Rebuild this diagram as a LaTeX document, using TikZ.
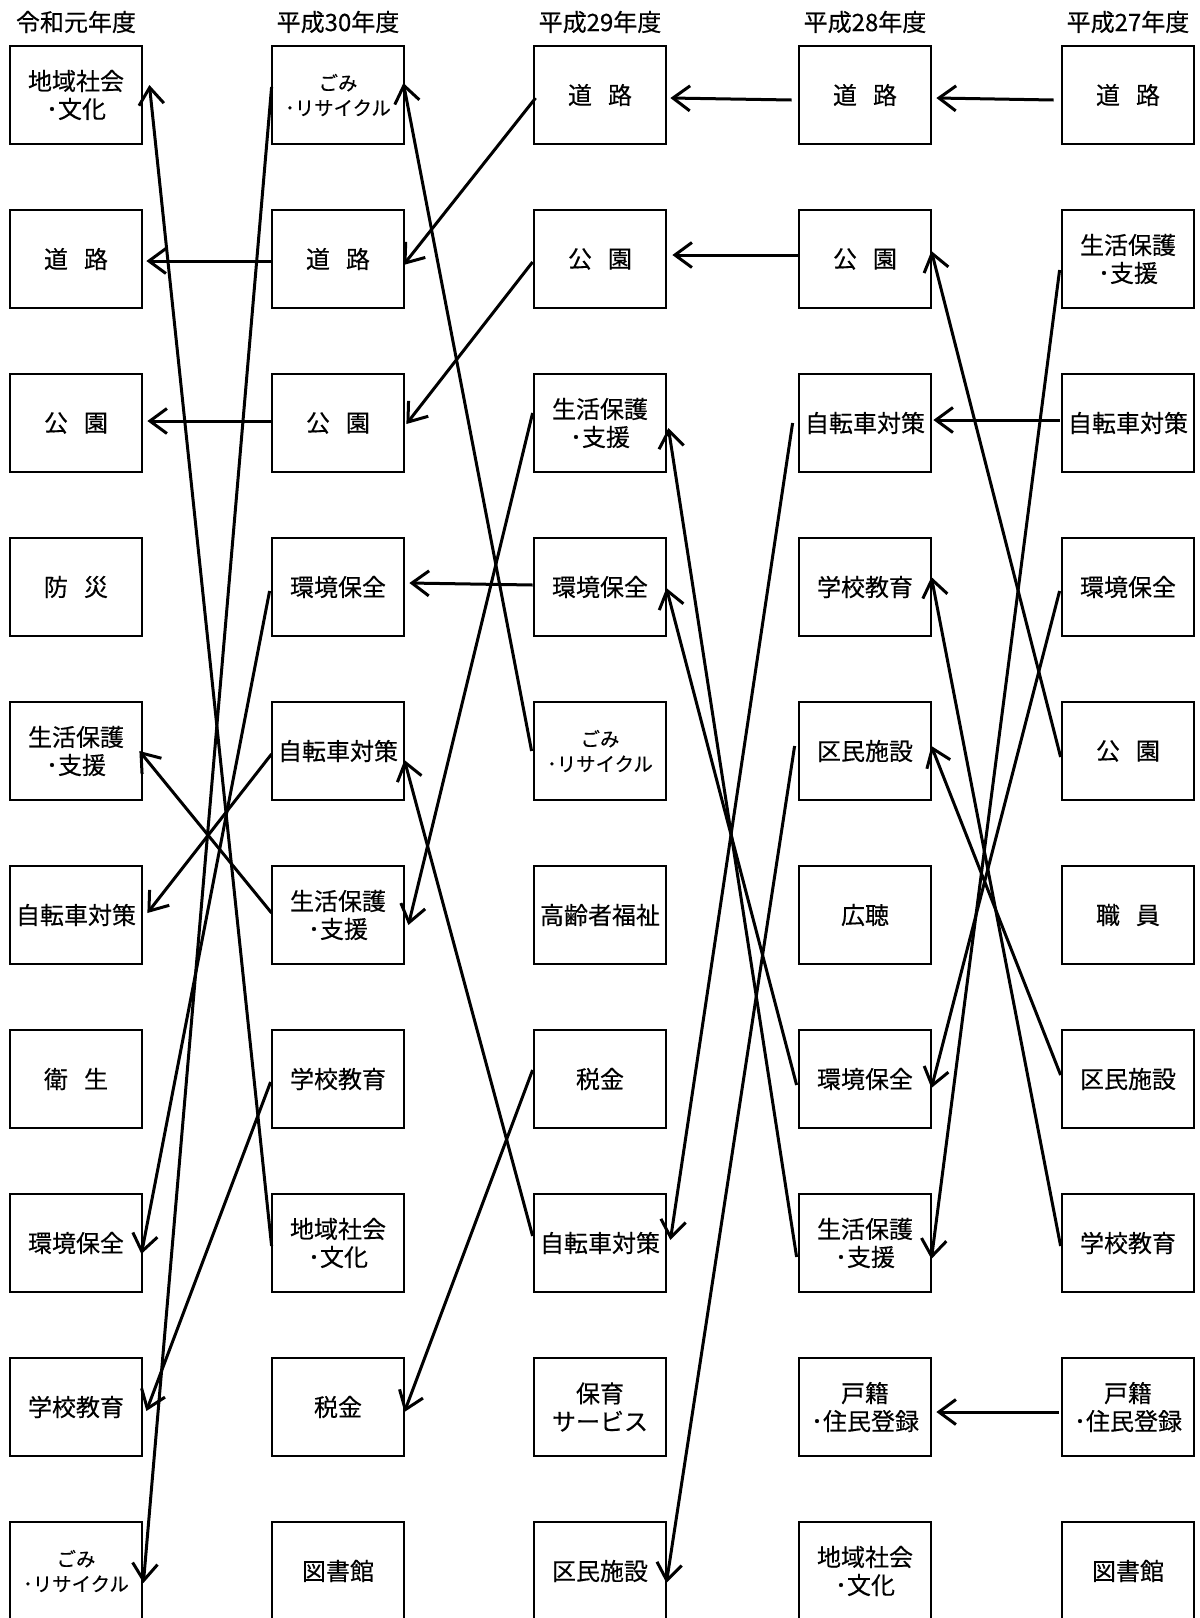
\documentclass[tikz,border=0pt]{standalone}
\usepackage{fontspec}
\setmainfont{Noto Sans CJK JP}[FakeBold=0.35]
\usetikzlibrary{arrows.meta,calc}
\newcommand{\gapw}{\hspace{8pt}}
\begin{document}
\begin{tikzpicture}[x=0.5pt,y=-0.5pt,
  box/.style={draw, line width=1.4pt, minimum width=66pt, minimum height=49pt, inner sep=0pt, align=center, font=\fontsize{12pt}{14pt}\selectfont},
  smallbox/.style={box, font=\fontsize{9.7pt}{12.5pt}\selectfont},
  hdr/.style={inner sep=0pt, font=\fontsize{12pt}{14pt}\selectfont},
  arr/.style={line width=1.5pt, -{Straight Barb[length=8.5pt,width=12.5pt]}}]
\useasboundingbox (0,0) rectangle (1200,1618);
% headers
\node[hdr] (h1) at (76,22) {令和元年度};
\node[hdr] (h2) at (338,22) {平成30年度};
\node[hdr] (h3) at (600,22) {平成29年度};
\node[hdr] (h4) at (865,22) {平成28年度};
\node[hdr] (h5) at (1128,22) {平成27年度};
% column 1
\node[box] (n11) at (76,95) {地域社会\\･文化};
\node[box] (n12) at (76,259) {道\gapw 路};
\node[box] (n13) at (76,423) {公\gapw 園};
\node[box] (n14) at (76,587) {防\gapw 災};
\node[box] (n15) at (76,751) {生活保護\\･支援};
\node[box] (n16) at (76,915) {自転車対策};
\node[box] (n17) at (76,1079) {衛\gapw 生};
\node[box] (n18) at (76,1243) {環境保全};
\node[box] (n19) at (76,1407) {学校教育};
\node[smallbox] (n110) at (76,1571) {ごみ\\･リサイクル};
% column 2
\node[smallbox] (n21) at (338,95) {ごみ\\･リサイクル};
\node[box] (n22) at (338,259) {道\gapw 路};
\node[box] (n23) at (338,423) {公\gapw 園};
\node[box] (n24) at (338,587) {環境保全};
\node[box] (n25) at (338,751) {自転車対策};
\node[box] (n26) at (338,915) {生活保護\\･支援};
\node[box] (n27) at (338,1079) {学校教育};
\node[box] (n28) at (338,1243) {地域社会\\･文化};
\node[box] (n29) at (338,1407) {税金};
\node[box] (n210) at (338,1571) {図書館};
% column 3
\node[box] (n31) at (600,95) {道\gapw 路};
\node[box] (n32) at (600,259) {公\gapw 園};
\node[box] (n33) at (600,423) {生活保護\\･支援};
\node[box] (n34) at (600,587) {環境保全};
\node[smallbox] (n35) at (600,751) {ごみ\\･リサイクル};
\node[box] (n36) at (600,915) {高齢者福祉};
\node[box] (n37) at (600,1079) {税金};
\node[box] (n38) at (600,1243) {自転車対策};
\node[box] (n39) at (600,1407) {保育\\サービス};
\node[box] (n310) at (600,1571) {区民施設};
% column 4
\node[box] (n41) at (865,95) {道\gapw 路};
\node[box] (n42) at (865,259) {公\gapw 園};
\node[box] (n43) at (865,423) {自転車対策};
\node[box] (n44) at (865,587) {学校教育};
\node[box] (n45) at (865,751) {区民施設};
\node[box] (n46) at (865,915) {広聴};
\node[box] (n47) at (865,1079) {環境保全};
\node[box] (n48) at (865,1243) {生活保護\\･支援};
\node[box] (n49) at (865,1407) {戸籍\\･住民登録};
\node[box] (n410) at (865,1571) {地域社会\\･文化};
% column 5
\node[box] (n51) at (1128,95) {道\gapw 路};
\node[box] (n52) at (1128,259) {生活保護\\･支援};
\node[box] (n53) at (1128,423) {自転車対策};
\node[box] (n54) at (1128,587) {環境保全};
\node[box] (n55) at (1128,751) {公\gapw 園};
\node[box] (n56) at (1128,915) {職\gapw 員};
\node[box] (n57) at (1128,1079) {区民施設};
\node[box] (n58) at (1128,1243) {学校教育};
\node[box] (n59) at (1128,1407) {戸籍\\･住民登録};
\node[box] (n510) at (1128,1571) {図書館};
% arrows col5 -> col4
\draw[arr] ($(n51.west)+(-7,5)$) -- ($(n41.east)+(4,3)$);
\draw[arr] ($(n52.west)+(-1,11)$) -- ($(n48.east)+(-1,16)$);
\draw[arr] ($(n53.west)+(-1,-3)$) -- ($(n43.east)+(1,-3)$);
\draw[arr] ($(n54.west)+(-1,4)$) -- ($(n47.east)+(-1,9)$);
\draw[arr] ($(n55.west)+(0,6)$) -- ($(n42.east)+(-1,-8)$);
\draw[arr] ($(n57.west)+(0,-4)$) -- ($(n45.east)+(-1,-5)$);
\draw[arr] ($(n58.west)+(0,3)$) -- ($(n44.east)+(-1,-10)$);
\draw[arr] ($(n59.west)+(-2,5)$) -- ($(n49.east)+(4,5)$);
% arrows col4 -> col3
\draw[arr] ($(n41.west)+(-6,5)$) -- ($(n31.east)+(3,3)$);
\draw[arr] ($(n42.west)+(0,-4)$) -- ($(n32.east)+(5,-4)$);
\draw[arr] ($(n43.west)+(-5,0)$) -- ($(n38.east)+(3,-3)$);
\draw[arr] ($(n45.west)+(-3,-5)$) -- ($(n310.east)+(-1,12)$);
\draw[arr] ($(n47.west)+(-1,6)$) -- ($(n34.east)+(-1,1)$);
\draw[arr] ($(n48.west)+(-1,14)$) -- ($(n33.east)+(1,5)$);
% arrows col3 -> col2
\draw[arr] ($(n31.west)+(3,3)$) -- ($(n22.east)+(-2,6)$);
\draw[arr] ($(n32.west)+(0,3)$) -- ($(n23.east)+(1,1)$);
\draw[arr] ($(n33.west)+(0,-10)$) -- ($(n26.east)+(3,10)$);
\draw[arr] ($(n34.west)+(0,-2)$) -- ($(n24.east)+(4,-4)$);
\draw[arr] ($(n35.west)+(-1,0)$) -- ($(n21.east)+(-2,-12)$);
\draw[arr] ($(n37.west)+(0,-9)$) -- ($(n29.east)+(-1,5)$);
\draw[arr] ($(n38.west)+(0,-7)$) -- ($(n25.east)+(-1,9)$);
% arrows col2 -> col1
\draw[arr] ($(n21.west)+(1,-8)$) -- ($(n110.east)+(0,12)$);
\draw[arr] ($(n22.west)+(0,2)$) -- ($(n12.east)+(3,2)$);
\draw[arr] ($(n23.west)+(0,-2)$) -- ($(n13.east)+(4,-2)$);
\draw[arr] ($(n24.west)+(-1,4)$) -- ($(n18.east)+(-2,11)$);
\draw[arr] ($(n25.west)+(1,3)$) -- ($(n16.east)+(4,-2)$);
\draw[arr] ($(n26.west)+(1,-2)$) -- ($(n15.east)+(-4,0)$);
\draw[arr] ($(n27.west)+(0,3)$) -- ($(n19.east)+(3,4)$);
\draw[arr] ($(n28.west)+(1,3)$) -- ($(n11.east)+(6,-10)$);
\end{tikzpicture}
\end{document}
